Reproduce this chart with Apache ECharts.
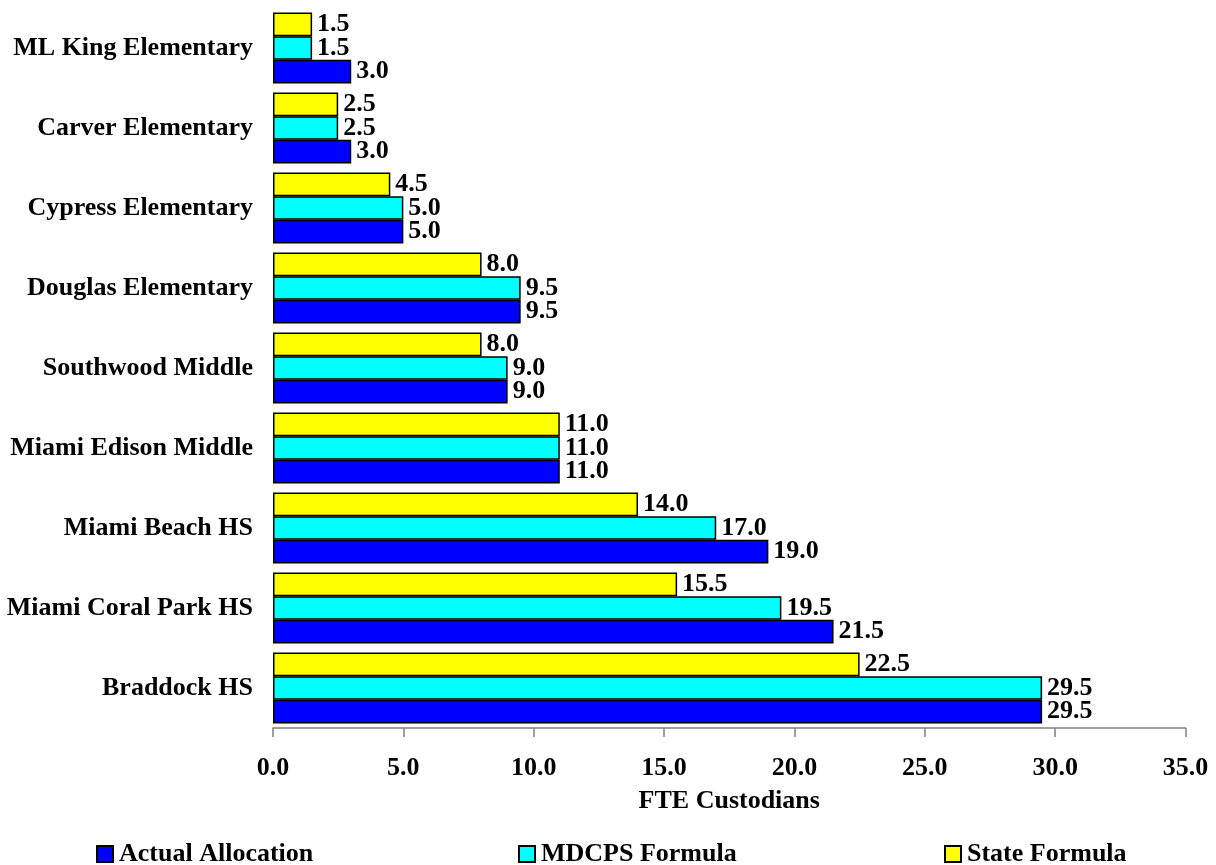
<!DOCTYPE html>
<html>
<head>
<meta charset="utf-8">
<script src="https://cdn.jsdelivr.net/npm/echarts@6/dist/echarts.min.js"></script>
<style>
  html, body { margin: 0; padding: 0; background: #fff; }
  #chart { width: 1216px; height: 865px; }
</style>
</head>
<body>
<div id="chart"></div>
<script>
// schools, bottom to top
const schools = [
  'Braddock HS',
  'Miami Coral Park HS',
  'Miami Beach HS',
  'Miami Edison Middle',
  'Southwood Middle',
  'Douglas Elementary',
  'Cypress Elementary',
  'Carver Elementary',
  'ML King Elementary',
];
const actualAllocation = [29.5, 21.5, 19.0, 11.0, 9.0, 9.5, 5.0, 3.0, 3.0];
const mdcpsFormula = [29.5, 19.5, 17.0, 11.0, 9.0, 9.5, 5.0, 2.5, 1.5];
const stateFormula = [22.5, 15.5, 14.0, 11.0, 8.0, 8.0, 4.5, 2.5, 1.5];

const FONT = "'Liberation Serif', 'Times New Roman', serif";
const textBase = { fontFamily: FONT, fontWeight: 'bold', fontSize: 26, color: '#000' };

const mkSeries = (name, color, data) => ({
  name,
  type: 'bar',
  data,
  barGap: 0,
  barCategoryGap: '11%',
  itemStyle: { color, borderColor: '#000', borderWidth: 1.5 },
  label: {
    show: true,
    position: 'right',
    distance: 5,
    formatter: (p) => p.value.toFixed(1),
    ...textBase,
  },
  emphasis: { disabled: true },
});

const mkLegend = (name, left) => ({
  data: [name],
  left,
  top: 841,
  padding: 0,
  icon: 'rect',
  itemWidth: 16,
  itemHeight: 16,
  itemGap: 0,
  textStyle: { ...textBase, padding: [0, 0, 0, 1] },
});

const chart = echarts.init(document.getElementById('chart'));
chart.setOption({
  animation: false,
  grid: { left: 273, right: 30.5, top: 8, bottom: 137, containLabel: false },
  legend: [
    mkLegend('Actual Allocation', 96),
    mkLegend('MDCPS Formula', 518),
    mkLegend('State Formula', 944),
  ],
  xAxis: {
    type: 'value',
    min: 0,
    max: 35,
    interval: 5,
    name: 'FTE Custodians',
    nameLocation: 'middle',
    nameGap: 60,
    nameTextStyle: textBase,
    axisLine: { show: true, lineStyle: { color: '#808080', width: 1.5 } },
    axisTick: { show: true, length: 9, lineStyle: { color: '#808080', width: 1.5 } },
    axisLabel: { margin: 27, formatter: (v) => v.toFixed(1), ...textBase },
    splitLine: { show: false },
  },
  yAxis: {
    type: 'category',
    data: schools,
    axisLine: { show: false },
    axisTick: { show: false },
    axisLabel: { margin: 20, ...textBase },
  },
  series: [
    mkSeries('State Formula', '#ffff00', stateFormula),
    mkSeries('MDCPS Formula', '#00ffff', mdcpsFormula),
    mkSeries('Actual Allocation', '#0000ff', actualAllocation),
  ],
});
</script>
</body>
</html>
